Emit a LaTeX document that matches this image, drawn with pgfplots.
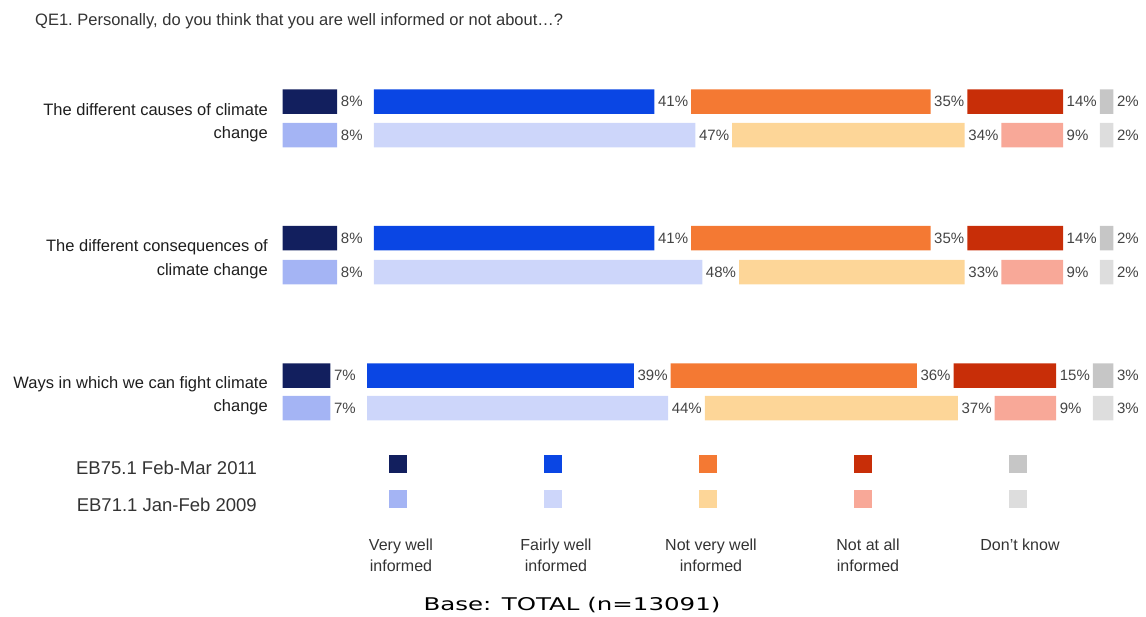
\documentclass[border=0pt]{standalone}
\usepackage{pgfplots}
\pgfplotsset{compat=1.18}
\usepackage{fontspec}
\setmainfont{Liberation Sans}
\newfontfamily\basefont[FakeStretch=1.4]{DejaVu Sans}

\definecolor{cnavy}{RGB}{18,31,94}
\definecolor{cblue}{RGB}{10,70,228}
\definecolor{corange}{RGB}{244,121,51}
\definecolor{cred}{RGB}{200,46,8}
\definecolor{cgray}{RGB}{198,198,198}
\definecolor{lnavy}{RGB}{164,180,244}
\definecolor{lblue}{RGB}{205,214,250}
\definecolor{lpeach}{RGB}{253,214,152}
\definecolor{lsalmon}{RGB}{248,168,152}
\definecolor{lgray}{RGB}{221,221,221}
\definecolor{pctgray}{RGB}{68,68,68}
\definecolor{txtdark}{RGB}{30,30,30}
\definecolor{txtgray}{RGB}{51,51,51}

\pgfplotsset{
  frame/.style={at={(0pt,0pt)}, anchor=north west, scale only axis,
    width=1146pt, height=616pt, ymin=0, ymax=616, y dir=reverse,
    hide axis, clip=false},
  barax/.style={frame, xmin=-41.30, xmax=126.24, xbar stacked, bar width=24.5pt},
  gap/.style={draw=none, fill=none, forget plot},
  seg/.style={fill=#1, draw=none, point meta=explicit symbolic,
    visualization depends on={rawx \as \rawx},
    nodes near coords={\pgfplotspointmeta\%},
    every node near coord/.append style={anchor=west, xshift={\rawx*3.42pt},
      font=\fontsize{15}{18}\selectfont, text=pctgray, inner sep=3.5pt}},
}

\begin{document}
\begin{tikzpicture}
\path[use as bounding box] (0,0) rectangle (1146pt,-616pt);

% EB75.1 Feb-Mar 2011
\begin{axis}[barax]
\addplot[seg=cnavy] coordinates {(8,101.5)[8] (8,238)[8] (7,375.5)[7]};
\addplot[gap] coordinates {(5.37,101.5) (5.37,238) (5.37,375.5)};
\addplot[seg=cblue] coordinates {(41,101.5)[41] (41,238)[41] (39,375.5)[39]};
\addplot[gap] coordinates {(5.37,101.5) (5.37,238) (5.37,375.5)};
\addplot[seg=corange] coordinates {(35,101.5)[35] (35,238)[35] (36,375.5)[36]};
\addplot[gap] coordinates {(5.37,101.5) (5.37,238) (5.37,375.5)};
\addplot[seg=cred] coordinates {(14,101.5)[14] (14,238)[14] (15,375.5)[15]};
\addplot[gap] coordinates {(5.37,101.5) (5.37,238) (5.37,375.5)};
\addplot[seg=cgray] coordinates {(2,101.5)[2] (2,238)[2] (3,375.5)[3]};
\end{axis}

% EB71.1 Jan-Feb 2009
\begin{axis}[barax]
\addplot[seg=lnavy] coordinates {(8,135)[8] (8,272)[8] (7,408)[7]};
\addplot[gap] coordinates {(5.37,135) (5.37,272) (5.37,408)};
\addplot[seg=lblue] coordinates {(47,135)[47] (48,272)[48] (44,408)[44]};
\addplot[gap] coordinates {(5.37,135) (5.37,272) (5.37,408)};
\addplot[seg=lpeach] coordinates {(34,135)[34] (33,272)[33] (37,408)[37]};
\addplot[gap] coordinates {(5.37,135) (5.37,272) (5.37,408)};
\addplot[seg=lsalmon] coordinates {(9,135)[9] (9,272)[9] (9,408)[9]};
\addplot[gap] coordinates {(5.37,135) (5.37,272) (5.37,408)};
\addplot[seg=lgray] coordinates {(2,135)[2] (2,272)[2] (3,408)[3]};
\end{axis}

% legend squares
\begin{axis}[frame, xmin=0, xmax=1146]
\addplot[only marks, mark=square*, mark size=8.5pt, color=cnavy] coordinates {(398,463.5)};
\addplot[only marks, mark=square*, mark size=8.5pt, color=cblue] coordinates {(553,463.5)};
\addplot[only marks, mark=square*, mark size=8.5pt, color=corange] coordinates {(708,463.5)};
\addplot[only marks, mark=square*, mark size=8.5pt, color=cred] coordinates {(862.5,463.5)};
\addplot[only marks, mark=square*, mark size=8.5pt, color=cgray] coordinates {(1017.5,463.5)};
\addplot[only marks, mark=square*, mark size=8.5pt, color=lnavy] coordinates {(398,499)};
\addplot[only marks, mark=square*, mark size=8.5pt, color=lblue] coordinates {(553,499)};
\addplot[only marks, mark=square*, mark size=8.5pt, color=lpeach] coordinates {(708,499)};
\addplot[only marks, mark=square*, mark size=8.5pt, color=lsalmon] coordinates {(862.5,499)};
\addplot[only marks, mark=square*, mark size=8.5pt, color=lgray] coordinates {(1017.5,499)};
\end{axis}

% title
\node[anchor=base west, inner sep=0pt, font=\fontsize{16.5}{19}\selectfont, text=txtgray]
  at (35pt,-25pt) {QE1.\ Personally, do you think that you are well informed or not about…?};

% row labels
\begin{scope}[every node/.style={anchor=base east, inner sep=0pt, font=\fontsize{16.5}{20}\selectfont, text=txtdark}]
\node at (268pt,-115pt) {The different causes of climate};
\node at (268pt,-138.3pt) {change};
\node at (268pt,-251.7pt) {The different consequences of};
\node at (268pt,-275pt) {climate change};
\node at (268pt,-388pt) {Ways in which we can fight climate};
\node at (268pt,-411.7pt) {change};
\end{scope}

% legend row labels
\begin{scope}[every node/.style={anchor=base east, inner sep=0pt, font=\fontsize{18.5}{22}\selectfont, text=txtgray}]
\node at (257pt,-474pt) {EB75.1 Feb-Mar 2011};
\node at (257pt,-511pt) {EB71.1 Jan-Feb 2009};
\end{scope}

% legend column labels
\begin{scope}[every node/.style={anchor=base, inner sep=0pt, font=\fontsize{16}{19}\selectfont, text=txtgray}]
\node at (401pt,-550pt) {Very well};
\node at (401pt,-571pt) {informed};
\node at (556pt,-550pt) {Fairly well};
\node at (556pt,-571pt) {informed};
\node at (711pt,-550pt) {Not very well};
\node at (711pt,-571pt) {informed};
\node at (868pt,-550pt) {Not at all};
\node at (868pt,-571pt) {informed};
\node at (1020pt,-550pt) {Don't know};
\end{scope}

% base
\node[anchor=base, inner sep=0pt, font=\basefont\fontsize{17.5}{20}\selectfont, text=black]
  at (572pt,-610pt) {Base: TOTAL (n=13091)};
\end{tikzpicture}
\end{document}
